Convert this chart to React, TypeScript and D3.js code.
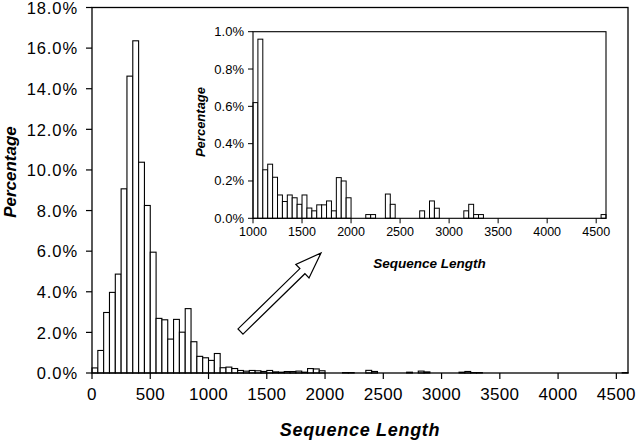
import React from "react";
import * as d3 from "d3";

// histogram bins (start of each 50-wide bin) and percentage of sequences
const binStart = [
  0, 50, 100, 150, 200, 250, 300, 350, 400, 450, 500, 550, 600, 650, 700, 750,
  800, 850, 900, 950, 1000, 1050, 1100, 1150, 1200, 1250, 1300, 1350, 1400,
  1450, 1500, 1550, 1600, 1650, 1700, 1750, 1800, 1850, 1900, 1950, 2150, 2200,
  2350, 2400, 2700, 2800, 2850, 3150, 3200, 3250, 3300, 4550,
];
const percent = [
  0.25, 1.11, 2.98, 3.97, 4.87, 9.07, 14.62, 16.36, 10.38, 8.25, 5.95, 2.69,
  2.62, 1.67, 2.64, 2.01, 3.17, 1.54, 0.82, 0.75, 0.62, 0.96, 0.26, 0.29, 0.22,
  0.125, 0.09, 0.125, 0.11, 0.075, 0.125, 0.055, 0.04, 0.072, 0.072, 0.093,
  0.04, 0.218, 0.2, 0.11, 0.02, 0.02, 0.13, 0.075, 0.04, 0.093, 0.054, 0.04,
  0.075, 0.02, 0.02, 0.02,
];
const binWidth = 50;

const mainXTicks = [0, 500, 1000, 1500, 2000, 2500, 3000, 3500, 4000, 4500];
const mainYTicks = [0, 2, 4, 6, 8, 10, 12, 14, 16, 18];
const insetXTicks = [1000, 1500, 2000, 2500, 3000, 3500, 4000, 4500];
const insetYTicks = [0, 0.2, 0.4, 0.6, 0.8, 1.0];

const FONT = "'Liberation Sans', Arial, Helvetica, sans-serif";

const data = binStart.map((s, i) => ({ start: s, value: percent[i] }));

function arrowPath(tx, ty, hx, hy) {
  const dx = hx - tx;
  const dy = hy - ty;
  const len = Math.sqrt(dx * dx + dy * dy);
  const ux = dx / len;
  const uy = dy / len;
  const nx = -uy;
  const ny = ux;
  const w = 3.6;
  const hl = 26;
  const hw = 9.5;
  const bx = hx - ux * hl;
  const by = hy - uy * hl;
  const pts = [
    [tx + nx * w, ty + ny * w],
    [bx + nx * w, by + ny * w],
    [bx + nx * hw, by + ny * hw],
    [hx, hy],
    [bx - nx * hw, by - ny * hw],
    [bx - nx * w, by - ny * w],
    [tx - nx * w, ty - ny * w],
  ];
  return "M" + pts.map((p) => p[0].toFixed(1) + "," + p[1].toFixed(1)).join("L") + "Z";
}

export default function App() {
  const xMain = d3.scaleLinear().domain([0, 4600]).range([92, 628]);
  const yMain = d3.scaleLinear().domain([0, 18]).range([373, 7.5]);
  const xIn = d3.scaleLinear().domain([1000, 4600]).range([253, 606]);
  const yIn = d3.scaleLinear().domain([0, 1]).range([218.3, 31.7]);
  const fmt = d3.format(".1f");

  const insetData = data.filter((d) => d.start >= 1000);

  return (
    <svg
      width={640}
      height={445}
      style={{ position: "absolute", left: 0, top: 0, background: "#fff" }}
    >
      {/* main chart bars */}
      <g>
        {data.map((d) => (
          <rect
            key={"m" + d.start}
            x={xMain(d.start)}
            y={yMain(d.value)}
            width={xMain(d.start + binWidth) - xMain(d.start)}
            height={yMain(0) - yMain(d.value)}
            fill="#fff"
            stroke="#000"
            strokeWidth={1.1}
          />
        ))}
      </g>
      {/* main frame */}
      <rect
        x={xMain(0)}
        y={yMain(18)}
        width={xMain(4600) - xMain(0)}
        height={yMain(0) - yMain(18)}
        fill="none"
        stroke="#000"
        strokeWidth={1.3}
      />
      {/* main y axis */}
      <g fontFamily={FONT} fontSize={16.5} fill="#000" letterSpacing={0.9}>
        {mainYTicks.map((t) => (
          <g key={"my" + t}>
            <line x1={xMain(0) - 6} x2={xMain(0)} y1={yMain(t)} y2={yMain(t)} stroke="#000" strokeWidth={1.2} />
            <text x={78} y={yMain(t) + 6.3} textAnchor="end">
              {fmt(t) + "%"}
            </text>
          </g>
        ))}
      </g>
      {/* main x axis */}
      <g fontFamily={FONT} fontSize={17} fill="#000" letterSpacing={0.3}>
        {mainXTicks.map((t) => (
          <g key={"mx" + t}>
            <line x1={xMain(t)} x2={xMain(t)} y1={yMain(0)} y2={yMain(0) + 6} stroke="#000" strokeWidth={1.2} />
            <text x={xMain(t)} y={400} textAnchor="middle">
              {t}
            </text>
          </g>
        ))}
      </g>
      <text
        x={360}
        y={436}
        textAnchor="middle"
        fontFamily={FONT}
        fontSize={18}
        fontWeight="bold"
        fontStyle="italic"
        letterSpacing={0.7}
      >
        Sequence Length
      </text>
      <text
        transform="translate(16,172) rotate(-90)"
        textAnchor="middle"
        fontFamily={FONT}
        fontSize={17}
        fontWeight="bold"
        fontStyle="italic"
      >
        Percentage
      </text>

      {/* inset */}
      <g>
        {insetData.map((d) => (
          <rect
            key={"i" + d.start}
            x={xIn(d.start)}
            y={yIn(d.value)}
            width={xIn(d.start + binWidth) - xIn(d.start)}
            height={yIn(0) - yIn(d.value)}
            fill="#fff"
            stroke="#000"
            strokeWidth={1}
          />
        ))}
      </g>
      <rect
        x={xIn(1000)}
        y={yIn(1)}
        width={xIn(4600) - xIn(1000)}
        height={yIn(0) - yIn(1)}
        fill="none"
        stroke="#000"
        strokeWidth={1.1}
      />
      <g fontFamily={FONT} fontSize={13} fill="#000">
        {insetYTicks.map((t) => (
          <g key={"iy" + t}>
            <line x1={xIn(1000) - 5} x2={xIn(1000)} y1={yIn(t)} y2={yIn(t)} stroke="#000" strokeWidth={1} />
            <text x={244} y={yIn(t) + 4.5} textAnchor="end">
              {fmt(t) + "%"}
            </text>
          </g>
        ))}
      </g>
      <g fontFamily={FONT} fontSize={12.5} fill="#000">
        {insetXTicks.map((t) => (
          <g key={"ix" + t}>
            <line x1={xIn(t)} x2={xIn(t)} y1={yIn(0)} y2={yIn(0) + 5} stroke="#000" strokeWidth={1} />
            <text x={xIn(t)} y={235.5} textAnchor="middle">
              {t}
            </text>
          </g>
        ))}
      </g>
      <text
        x={(xIn(1000) + xIn(4600)) / 2}
        y={268}
        textAnchor="middle"
        fontFamily={FONT}
        fontSize={13.5}
        fontWeight="bold"
        fontStyle="italic"
      >
        Sequence Length
      </text>
      <text
        transform="translate(205,122) rotate(-90)"
        textAnchor="middle"
        fontFamily={FONT}
        fontSize={13}
        fontWeight="bold"
        fontStyle="italic"
      >
        Percentage
      </text>

      {/* pointer arrow from main chart to inset */}
      <path d={arrowPath(240.5, 331.5, 321, 253)} fill="#fff" stroke="#000" strokeWidth={1.2} />
    </svg>
  );
}
